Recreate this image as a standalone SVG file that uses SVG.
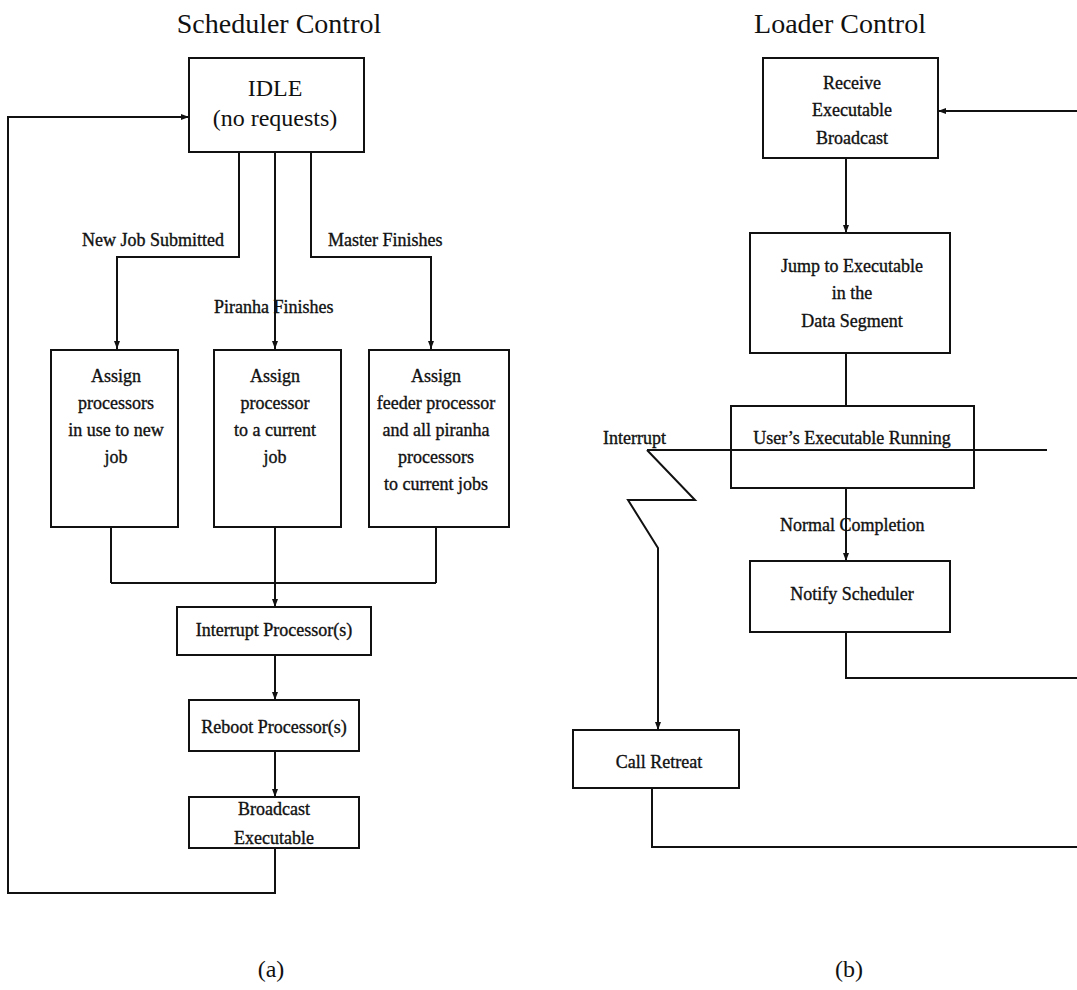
<svg xmlns="http://www.w3.org/2000/svg" width="1077" height="990" viewBox="0 0 1077 990">
<style>
  .box { fill: #fff; stroke: #111; stroke-width: 2; }
  .ln { fill: none; stroke: #111; stroke-width: 2; }
  .arr { marker-end: url(#ah); }
  text { font-family: "Liberation Serif", "Times New Roman", serif; fill: #111; }
  .t { font-size: 18px; stroke: #111; stroke-width: 0.35; text-anchor: middle; }
  .lbl { font-size: 18px; stroke: #111; stroke-width: 0.35; }
  .title { font-size: 28px; text-anchor: middle; }
  .big { font-size: 24px; text-anchor: middle; }
</style>
<defs>
  <marker id="ah" markerWidth="9" markerHeight="7" refX="8" refY="3" orient="auto" markerUnits="userSpaceOnUse">
    <path d="M0,0 L8,3 L0,6 z" fill="#111"/>
  </marker>
</defs>
<rect width="1077" height="990" fill="#fff"/>

<text class="title" x="279" y="33">Scheduler Control</text>
<text class="title" x="840" y="33">Loader Control</text>
<text class="big" x="271" y="977">(a)</text>
<text class="big" x="849" y="977">(b)</text>

<g id="connectors">
  <path class="ln arr" d="M239,152 V257 H117 V349"/>
  <path class="ln arr" d="M275,152 V349"/>
  <path class="ln arr" d="M311,152 V257 H431 V349"/>
  <path class="ln" d="M111,527 V583 M275,527 V583 M436,527 V583 M111,583 H436"/>
  <path class="ln arr" d="M275,583 V607"/>
  <path class="ln arr" d="M275,655 V700"/>
  <path class="ln arr" d="M275,751 V797"/>
  <path class="ln arr" d="M275,848 V893 H8 V117 H189"/>
  <path class="ln arr" d="M1077,111 H938"/>
  <path class="ln arr" d="M846,158 V233"/>
  <path class="ln" d="M846,353 V406"/>
  <path class="ln arr" d="M846,488 V561"/>
  <path class="ln" d="M846,632 V678 H1077"/>
  <path class="ln" d="M652,788 V847 H1077"/>
  <path class="ln arr" d="M647,450 L695,500 H628 L658,548 V730"/>
  <text class="lbl" x="82" y="246">New Job Submitted</text>
  <text class="lbl" x="328" y="246">Master Finishes</text>
  <text class="lbl" x="214" y="313">Piranha Finishes</text>
  <text class="lbl" x="603" y="444">Interrupt</text>
  <text class="lbl" x="780" y="531">Normal Completion</text>
</g>

<g id="idle">
  <rect class="box" x="189" y="58" width="175" height="94"/>
  <text class="big" x="275" y="96">IDLE</text>
  <text class="big" x="275" y="126">(no requests)</text>
</g>
<g id="assign-new">
  <rect class="box" x="51" y="350" width="127" height="177"/>
  <text class="t" x="116" y="382">Assign</text>
  <text class="t" x="116" y="409">processors</text>
  <text class="t" x="116" y="436">in use to new</text>
  <text class="t" x="116" y="463">job</text>
</g>
<g id="assign-current">
  <rect class="box" x="214" y="350" width="127" height="177"/>
  <text class="t" x="275" y="382">Assign</text>
  <text class="t" x="275" y="409">processor</text>
  <text class="t" x="275" y="436">to a current</text>
  <text class="t" x="275" y="463">job</text>
</g>
<g id="assign-feeder">
  <rect class="box" x="369" y="350" width="140" height="177"/>
  <text class="t" x="436" y="382">Assign</text>
  <text class="t" x="436" y="409">feeder processor</text>
  <text class="t" x="436" y="436">and all piranha</text>
  <text class="t" x="436" y="463">processors</text>
  <text class="t" x="436" y="490">to current jobs</text>
</g>
<g id="interrupt">
  <rect class="box" x="177" y="607" width="194" height="48"/>
  <text class="t" x="274" y="636">Interrupt Processor(s)</text>
</g>
<g id="reboot">
  <rect class="box" x="189" y="700" width="170" height="51"/>
  <text class="t" x="274" y="733">Reboot Processor(s)</text>
</g>
<g id="broadcast">
  <rect class="box" x="189" y="797" width="170" height="51"/>
  <text class="t" x="274" y="815">Broadcast</text>
  <text class="t" x="274" y="844">Executable</text>
</g>

<g id="receive">
  <rect class="box" x="763" y="58" width="175" height="100"/>
  <text class="t" x="852" y="89">Receive</text>
  <text class="t" x="852" y="116">Executable</text>
  <text class="t" x="852" y="144">Broadcast</text>
</g>
<g id="jump">
  <rect class="box" x="750" y="233" width="200" height="120"/>
  <text class="t" x="852" y="272">Jump to Executable</text>
  <text class="t" x="852" y="299">in the</text>
  <text class="t" x="852" y="327">Data Segment</text>
</g>
<g id="running">
  <rect class="box" x="731" y="406" width="243" height="82"/>
  <text class="t" x="852" y="444">User’s Executable Running</text>
</g>
<path class="ln" d="M647,450 H1047"/>
<g id="notify">
  <rect class="box" x="750" y="561" width="200" height="71"/>
  <text class="t" x="852" y="600">Notify Scheduler</text>
</g>
<g id="retreat">
  <rect class="box" x="573" y="730" width="166" height="58"/>
  <text class="t" x="659" y="768">Call Retreat</text>
</g>
</svg>
